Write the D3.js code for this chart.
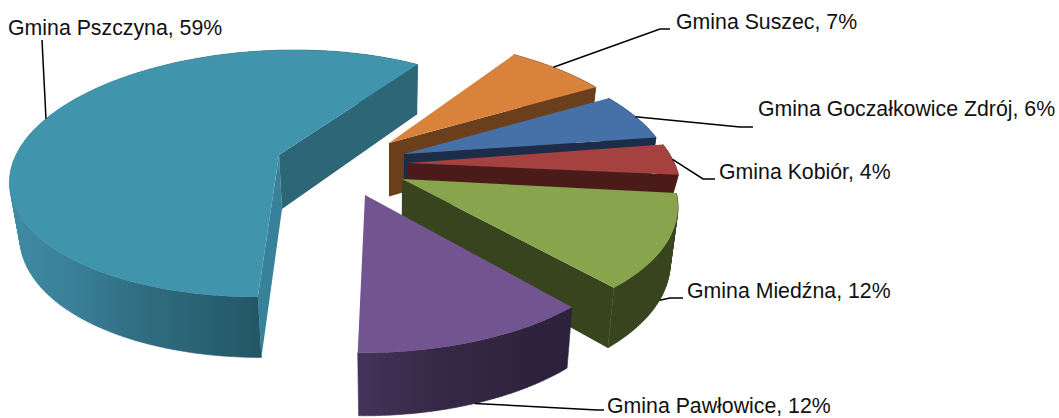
<!DOCTYPE html>
<html><head><meta charset="utf-8">
<script src="https://cdn.jsdelivr.net/npm/d3@7"></script>
<style>html,body{margin:0;padding:0;background:#fff}svg{display:block}text{font-family:"Liberation Sans",Arial,sans-serif;fill:#111}</style>
</head><body><svg id="c" width="1059" height="418"></svg>
<script>
// data
const gminas = ["Gmina Suszec","Gmina Goczałkowice Zdrój","Gmina Kobiór","Gmina Miedźna","Gmina Pawłowice","Gmina Pszczyna"];
const shares = [7,6,4,12,12,59];
// styling (null = wall faces away from the viewer)
const topColors = ["#d8823b","#4571a8","#a5423f","#88a44c","#725490","#4095ad"];
const startWall = [null,null,null,null,null,"#37829a"];
const endWall   = ["#6b3f1c","#1b2d48","#4a1b19","#38441d",null,"#2c6677"];
const outerStops = [
  [["#6b3f1c",0],["#6b3f1c",1]],[["#1b2d48",0],["#1b2d48",1]],[["#4a1b19",0],["#4a1b19",1]],
  [["#38441d",0],["#38441d",1]],[["#45325a",0],["#352845",.4],["#2b2139",1]],
  [["#3e8ba3",0],["#3a8098",.25],["#2f6c80",.55],["#235765",1]]];
// layout: exploded slice centres, per-slice perspective, label placement
const centres = [[389,143],[404,154],[408,163],[402,179],[365,195],[279,155]];
//               A    B      K     D  C  E
const shapes = [[268,123.6,.176, 0, 3, 3],
                [265,123.6,.176, 0, 3, 3],
                [268,123.6,.176, 0, 2, 2],
                [272,126,  .176, 2, 3, 3],
                [270,130,  .176, 6, 3, 3],
                [263,120.7,.15, 18, 0, 0]];
const depthFactor = [1,1,.5,1,1,1];
const leaderAt = [.45,.5,.5,.5,.5,.51];
const leaderLow = [false,false,false,true,true,false];
const elbows = [[[660,29],[670,29]],[[740,127],[753,127]],[[703,179],[715,179]],[[670,298],[683,298]],[[597,410],[604,410]],[[42,40],[42,40]]];
const labelPos = [[676,29],[758,116],[719,179],[687,298],[607,413],[8,35]];

const svg = d3.select("#c"), defs = svg.append("defs");
const project = (t,[A,B,K,D,C,E]) => {
  const s=Math.sin(t),c=Math.cos(t),w=1+K*c;
  return [(A*s+D*c)/w, (-B*c)/w + C*s + E*s*s];
};
const depth = d3.scaleLinear().domain([66,353]).range([50,63]);
const drift = d3.scaleLinear().domain([390,611]).range([0,-6]);
const down = (p,f=1) => [p[0]+drift(p[0]), p[1]+depth(p[1])*f];
const line = d3.line();
const arcs = d3.pie().sort(null).startAngle(32.4*Math.PI/180).endAngle(32.4*Math.PI/180+2*Math.PI)(shares);
const order = [5,0,1,2,3,4];
order.forEach(i=>{
  const a=arcs[i], o=centres[i], f=depthFactor[i];
  const n=Math.max(8,Math.ceil((a.endAngle-a.startAngle)*60));
  const rim=d3.range(n+1).map(k=>{
    const t=a.startAngle+(a.endAngle-a.startAngle)*k/n, p=project(t,shapes[i]);
    return [o[0]+p[0],o[1]+p[1]];
  });
  const first=rim[0], last=rim[n], g=svg.append("g");
  const gid="w"+i;
  const lg=defs.append("linearGradient").attr("id",gid).attr("gradientUnits","userSpaceOnUse");
  const vis=rim.filter(p=>i==5?p[1]>o[1]+22:true).map(p=>p[0]);
  lg.attr("x1",d3.min(vis)).attr("x2",d3.max(vis)).attr("y1",0).attr("y2",0);
  outerStops[i].forEach(s=>lg.append("stop").attr("offset",s[1]).attr("stop-color",s[0]));
  const sweep = d3.pairs(rim).map(([p,q])=>line([p,q,down(q,f),down(p,f)])+"Z").join("");
  g.append("path").attr("d",sweep).attr("fill",`url(#${gid})`).attr("stroke",`url(#${gid})`).attr("stroke-width",.6);
  if(startWall[i]) g.append("path").attr("d",line([o,first,down(first,f),down(o,f)])+"Z").attr("fill",startWall[i]);
  if(endWall[i]) g.append("path").attr("d",line([o,last,down(last,f),down(o,f)])+"Z").attr("fill",endWall[i]);
  g.append("path").attr("d",line([o].concat(rim))+"Z").attr("fill",topColors[i]);
});
gminas.forEach((name,i)=>{
  const a=arcs[i],o=centres[i];
  const p=project(a.startAngle+(a.endAngle-a.startAngle)*leaderAt[i],shapes[i]);
  let s=[o[0]+p[0],o[1]+p[1]];
  if(leaderLow[i]) s=down(s);
  svg.append("path").attr("d",line([s].concat(elbows[i]))).attr("fill","none").attr("stroke","#000").attr("stroke-width",1.5);
  svg.append("text").attr("x",labelPos[i][0]).attr("y",labelPos[i][1]).attr("font-size",21.3).text(`${name}, ${shares[i]}%`);
});
</script></body></html>
